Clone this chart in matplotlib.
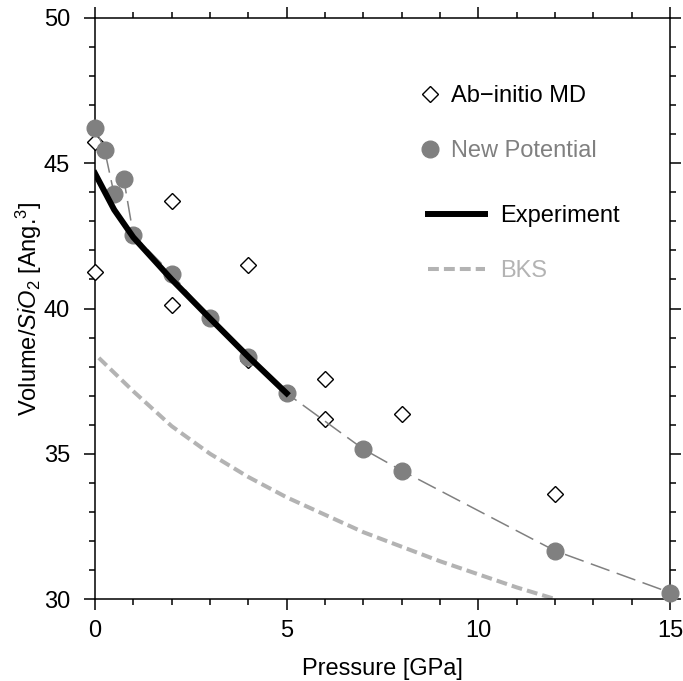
import matplotlib
matplotlib.use("Agg")
import matplotlib.pyplot as plt
from matplotlib.lines import Line2D
from matplotlib.ticker import MultipleLocator

plt.rcParams['font.family'] = ['Liberation Sans', 'DejaVu Sans']
plt.rcParams['mathtext.fontset'] = 'custom'
plt.rcParams['mathtext.rm'] = 'Liberation Sans'
plt.rcParams['mathtext.it'] = 'Liberation Sans:italic'

# ---- data ----
abinitio_p = [0, 0, 2, 2, 4, 4, 6, 6, 8, 12]
abinitio_v = [45.74, 41.27, 43.70, 40.12, 41.50, 38.23, 37.57, 36.19, 36.36, 33.60]

newpot_p = [0, 0.25, 0.5, 0.75, 1, 2, 3, 4, 5, 7, 8, 12, 15]
newpot_v = [46.22, 45.46, 43.93, 44.46, 42.53, 41.19, 39.66, 38.34, 37.08, 35.16, 34.42, 31.66, 30.22]

exp_p = [0, 0.5, 1, 2, 3, 4, 5]
exp_v = [44.65, 43.40, 42.45, 41.00, 39.66, 38.34, 37.08]

bks_p = [0.1, 1, 2, 3, 4, 5, 6, 7, 8, 9, 10, 11, 12]
bks_v = [38.30, 37.15, 35.95, 35.00, 34.20, 33.50, 32.90, 32.30, 31.80, 31.30, 30.85, 30.40, 30.00]

labels = ['Ab\u2212initio MD', 'New Potential', 'Experiment', 'BKS']

C_NEW = '#808080'
C_BKS = '#b3b3b3'
FS = 17

fig = plt.figure(figsize=(6.83, 6.81), dpi=100)
ax = fig.add_axes([95/683, 82/681, 575/683, 581/681])

ax.plot(bks_p, bks_v, color=C_BKS, lw=2.9, dashes=(2.7, 1.25), zorder=2)
ax.plot(abinitio_p, abinitio_v, linestyle='none', marker='D', ms=8.6,
        mfc='white', mec='black', mew=1.0, clip_on=False, zorder=3)
ax.plot(newpot_p, newpot_v, color=C_NEW, lw=1.1, dashes=(13, 5),
        marker='o', ms=12, mfc=C_NEW, mec=C_NEW, clip_on=False, zorder=4)
ax.plot(exp_p, exp_v, color='black', lw=4.3, zorder=5)

ax.set_xlim(0, 15)
ax.set_ylim(30, 50)
ax.xaxis.set_major_locator(MultipleLocator(5))
ax.xaxis.set_minor_locator(MultipleLocator(1))
ax.yaxis.set_major_locator(MultipleLocator(5))
ax.yaxis.set_minor_locator(MultipleLocator(1))
ax.tick_params(which='both', direction='out', top=True, right=True, width=1.1,
               labelsize=FS)
ax.tick_params(which='major', length=7.9)
ax.tick_params(which='minor', length=4)
ax.tick_params(axis='x', pad=7)
ax.tick_params(axis='y', pad=10)
for s in ax.spines.values():
    s.set_linewidth(1.1)

ax.set_xlabel('Pressure [GPa]', fontsize=FS, labelpad=12)
ax.set_ylabel(r'Volume/$\mathit{SiO}_2$ [Ang.$^3$]', fontsize=FS, labelpad=0)

h1 = [Line2D([], [], linestyle='none', marker='D', ms=8.6, mfc='white', mec='black', mew=1.0),
      Line2D([], [], linestyle='none', marker='o', ms=12, mfc=C_NEW, mec=C_NEW)]
leg1 = ax.legend(h1, labels[:2], loc='upper left', bbox_to_anchor=(0.567, 0.884),
                 frameon=False, fontsize=FS, handlelength=0.8, handletextpad=0.45,
                 labelspacing=1.4, borderpad=0, borderaxespad=0, numpoints=1)
for t, c in zip(leg1.get_texts(), ['black', C_NEW]):
    t.set_color(c)
ax.add_artist(leg1)

h2 = [Line2D([], [], color='black', lw=4.3),
      Line2D([], [], color=C_BKS, lw=2.9, dashes=(2.7, 1.25))]
leg2 = ax.legend(h2, labels[2:], loc='upper left', bbox_to_anchor=(0.579, 0.678),
                 frameon=False, fontsize=FS, handlelength=2.4, handletextpad=0.64,
                 labelspacing=1.4, borderpad=0, borderaxespad=0)
for t, c in zip(leg2.get_texts(), ['black', C_BKS]):
    t.set_color(c)

fig.savefig('out.png', dpi=100)
